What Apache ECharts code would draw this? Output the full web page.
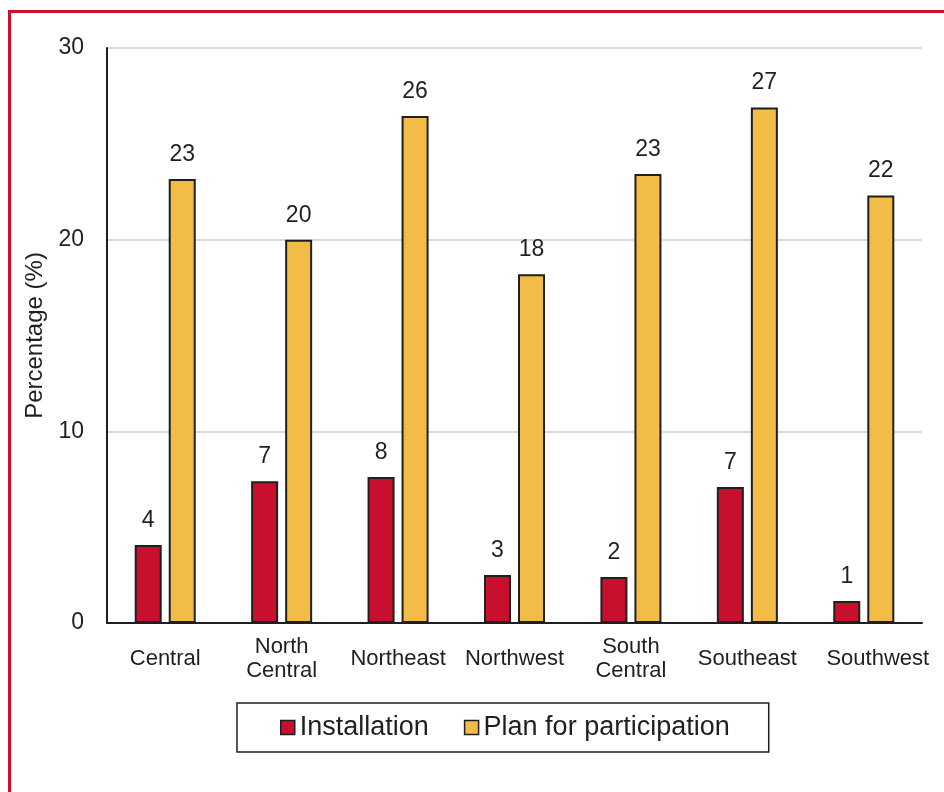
<!DOCTYPE html>
<html>
<head>
<meta charset="utf-8">
<script src="https://cdn.jsdelivr.net/npm/echarts@6/dist/echarts.min.js"></script>
<style>
  html, body { margin: 0; padding: 0; background: #fff; }
  #frame { position: absolute; left: 8px; top: 10px; width: 940px; height: 790px; border-left: 3px solid #d0102a; border-top: 3px solid #d0102a; }
  #chart { position: absolute; left: 0; top: 0; width: 944px; height: 792px; }
</style>
</head>
<body>
<div id="frame"></div>
<div id="chart"></div>
<script>
const regions = ['Central', 'North\nCentral', 'Northeast', 'Northwest', 'South\nCentral', 'Southeast', 'Southwest']
const installation = [4.07, 7.4, 7.62, 2.5, 2.4, 7.1, 1.15]
const installationLabels = ['4', '7', '8', '3', '2', '7', '1']
const planParticipation = [23.16, 20.0, 26.45, 18.2, 23.42, 26.9, 22.3]
const planLabels = ['23', '20', '26', '18', '23', '27', '22']

const FONT = 'Liberation Sans, Arial, sans-serif'
const RED = '#c8102e'
const YELLOW = '#f2bc46'
const INK = '#1f1f1f'

function barSeries(name, data, labels, color) {
  return {
    name,
    type: 'bar',
    data,
    barWidth: 27,
    barGap: '26%',
    itemStyle: { color, borderColor: INK, borderWidth: 2 },
    label: {
      show: true,
      position: 'top',
      distance: 13,
      color: INK,
      fontFamily: FONT,
      fontSize: 23,
      formatter: (p) => labels[p.dataIndex],
    },
  }
}

const chart = echarts.init(document.getElementById('chart'))
chart.setOption({
  animation: false,
  grid: { left: 107, right: 22, top: 48, bottom: 169 },
  legend: {
    left: 237,
    top: 703,
    itemWidth: 14,
    itemHeight: 14,
    itemGap: 35,
    padding: [11, 39, 11, 43],
    borderColor: INK,
    borderWidth: 1.5,
    icon: 'rect',
    textStyle: { fontFamily: FONT, fontSize: 27, color: INK },
    data: [
      { name: 'Installation', itemStyle: { borderColor: INK, borderWidth: 1.5 } },
      { name: 'Plan for participation', itemStyle: { borderColor: INK, borderWidth: 1.5 } },
    ],
  },
  xAxis: {
    type: 'category',
    data: regions,
    axisLine: { lineStyle: { color: INK, width: 2 } },
    axisTick: { show: false },
    axisLabel: {
      color: INK,
      fontFamily: FONT,
      fontSize: 22,
      lineHeight: 24,
      verticalAlign: 'middle',
      margin: 36,
      interval: 0,
      formatter: (v) => (v === 'Southwest' ? '{sw|' + v + '}' : v),
      rich: { sw: { fontFamily: FONT, fontSize: 22, color: INK, padding: [0, 0, 0, 28] } },
    },
  },
  yAxis: {
    type: 'value',
    min: 0,
    max: 30,
    interval: 10,
    name: 'Percentage (%)',
    nameLocation: 'middle',
    nameGap: 58,
    nameTextStyle: { fontFamily: FONT, fontSize: 24, color: INK },
    axisLine: { show: true, lineStyle: { color: INK, width: 2 } },
    axisTick: { show: false },
    axisLabel: { color: INK, fontFamily: FONT, fontSize: 23, margin: 23 },
    splitLine: { lineStyle: { color: '#d9d9d9', width: 2 } },
  },
  series: [
    barSeries('Installation', installation, installationLabels, RED),
    barSeries('Plan for participation', planParticipation, planLabels, YELLOW),
  ],
})
</script>
</body>
</html>
